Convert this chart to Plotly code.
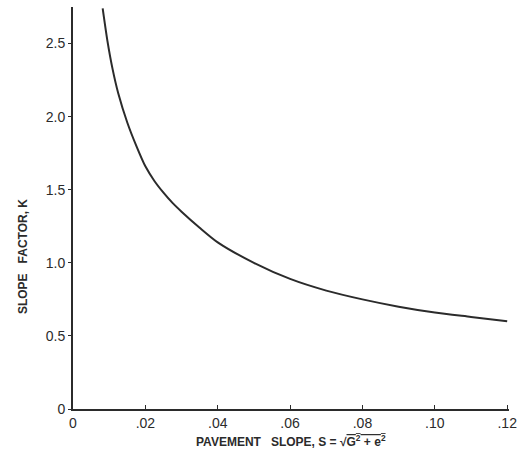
import plotly.graph_objects as go

# Pavement slope S and slope factor K
slope_s = [0.0082, 0.0095, 0.0109, 0.0125, 0.015, 0.0175, 0.02, 0.0225, 0.025,
           0.0275, 0.03, 0.035, 0.04, 0.05, 0.06, 0.07, 0.08, 0.09, 0.10, 0.11, 0.12]
factor_k = [2.74, 2.52, 2.33, 2.16, 1.96, 1.80, 1.66, 1.56, 1.48,
            1.41, 1.35, 1.24, 1.14, 1.00, 0.89, 0.81, 0.75, 0.70, 0.66, 0.63, 0.60]

x_tick_vals = [0, 0.02, 0.04, 0.06, 0.08, 0.10, 0.12]
x_tick_text = ["0", ".02", ".04", ".06", ".08", ".10", ".12"]
y_tick_vals = [0, 0.5, 1.0, 1.5, 2.0, 2.5]
y_tick_text = ["0", "0.5", "1.0", "1.5", "2.0", "2.5"]

ink = "#2b2b2b"
font_fam = "Liberation Sans, Arial, sans-serif"

fig = go.Figure()
fig.add_trace(go.Scatter(
    x=slope_s, y=factor_k, mode="lines",
    line=dict(color=ink, width=2, shape="spline", smoothing=0.7),
    showlegend=False, hoverinfo="skip",
))

fig.update_layout(
    width=524, height=454,
    margin=dict(l=73, r=12, t=7, b=45),
    paper_bgcolor="white", plot_bgcolor="white",
    font=dict(family=font_fam, color=ink, size=13),
    xaxis=dict(
        range=[0, 0.1205], tickvals=x_tick_vals, ticktext=x_tick_text,
        showgrid=False, zeroline=False, showline=True, linecolor=ink, linewidth=2,
        ticks="inside", ticklen=4, tickcolor=ink, tickwidth=1,
        tickfont=dict(size=14, color=ink), fixedrange=True,
    ),
    yaxis=dict(
        range=[0, 2.75], tickvals=y_tick_vals, ticktext=y_tick_text,
        showgrid=False, zeroline=False, showline=True, linecolor=ink, linewidth=2,
        ticks="outside", ticklen=3, tickcolor=ink, tickwidth=1,
        tickfont=dict(size=14, color=ink), fixedrange=True,
    ),
    annotations=[
        dict(
            text="<b>PAVEMENT&nbsp;&nbsp;&nbsp;SLOPE, S = √<span style='text-decoration:overline'>G<sup>2</sup> + e<sup>2</sup></span></b>",
            xref="paper", yref="paper", x=0.5, y=-0.055, xanchor="center", yanchor="top",
            showarrow=False, font=dict(size=12, color=ink, family=font_fam),
        ),
        dict(
            text="<b>SLOPE&nbsp;&nbsp;&nbsp;FACTOR, K</b>",
            xref="paper", yref="paper", x=-0.115, y=0.38, xanchor="center", yanchor="middle",
            textangle=-90, showarrow=False, font=dict(size=12, color=ink, family=font_fam),
        ),
    ],
)

fig.write_html("out.html")
